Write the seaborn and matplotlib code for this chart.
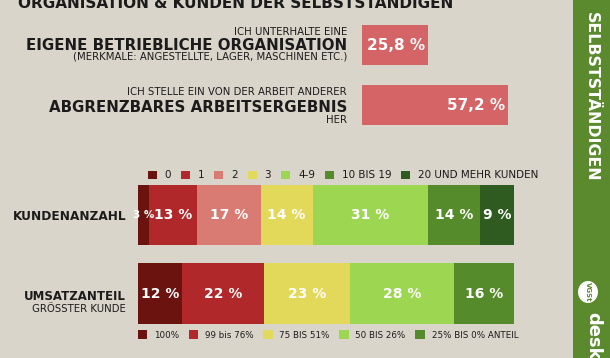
import matplotlib
matplotlib.use("Agg")
import numpy as np
import pandas as pd
import seaborn as sns
import matplotlib.pyplot as plt
from matplotlib.patches import Patch, Rectangle, Ellipse

# ================================
# Daten
# ================================
org_keys = ["ORG", "ERG"]
org_values = [25.8, 57.2]
org_labels = ["25,8 %", "57,2 %"]

kunden_cats = ["0", "1", "2", "3", "4-9", "10 BIS 19", "20 UND MEHR KUNDEN"]
kunden_values = [3, 13, 17, 14, 31, 14, 9]

umsatz_cats = ["100%", "99 bis 76%", "75 BIS 51%", "50 BIS 26%", "25% BIS 0% ANTEIL"]
umsatz_values = [12, 22, 23, 28, 16]

# Farben
BG = "#dad5ca"
RED_TOP = "#d46465"
SIDE_GREEN = "#5b8a2e"
DARK = "#1b1b1b"
kunden_colors = ["#6a130f", "#b0282a", "#d97b72", "#e2d95a", "#9dd651", "#568b2b", "#2f5a20"]
umsatz_colors = ["#6a130f", "#b0282a", "#e2d95a", "#9dd651", "#568b2b"]

sns.set_theme(style="white")
plt.rcParams["font.family"] = ["DejaVu Sans"]

W, H = 610, 358
fig = plt.figure(figsize=(W / 100, H / 100), dpi=100)
fig.patch.set_facecolor(BG)


def fx(px):
    return px / W


def fy(py):
    return 1 - py / H


# ================================
# Titel (oben abgeschnitten)
# ================================
fig.text(fx(236), fy(7.5), "ORGANISATION & KUNDEN DER SELBSTSTÄNDIGEN",
         ha="center", va="baseline", fontsize=11, fontweight="bold", color=DARK)

# ================================
# Obere Balken
# ================================
ax_top = fig.add_axes([fx(362), fy(135), 153.1 / W, 120 / H])
ax_top.set_facecolor("none")
sns.barplot(x=org_values, y=org_keys, orient="h", color=RED_TOP,
            width=0.66, saturation=1, linewidth=0, ax=ax_top)
ax_top.set_xlim(0, 60)
ax_top.set_ylim(1.5, -0.5)
ax_top.axis("off")
for i, (v, lab) in enumerate(zip(org_values, org_labels)):
    ax_top.annotate(lab, (v, i), xytext=(-2, 0), textcoords="offset points",
                    ha="right", va="center", color="white",
                    fontsize=11, fontweight="bold")

small = dict(ha="right", va="baseline", fontsize=7.3, color=DARK)
big = dict(ha="right", va="baseline", fontsize=10.8, fontweight="bold", color=DARK)
fig.text(fx(347), fy(35), "ICH UNTERHALTE EINE", **small)
fig.text(fx(347), fy(50), "EIGENE BETRIEBLICHE ORGANISATION", **big)
fig.text(fx(347), fy(59.5), "(MERKMALE: ANGESTELLTE, LAGER, MASCHINEN ETC.)", **small)
fig.text(fx(347), fy(95), "ICH STELLE EIN VON DER ARBEIT ANDERER", **small)
fig.text(fx(347), fy(112), "ABGRENZBARES ARBEITSERGEBNIS", **big)
fig.text(fx(347), fy(123), "HER", **small)

# ================================
# Gestapelte Balken
# ================================
ax = fig.add_axes([fx(137.7), fy(332.75), 376 / W, 157 / H])
ax.set_facecolor("none")

rows = [(kunden_values, kunden_colors), (umsatz_values, umsatz_colors)]
for r, (vals, cols) in enumerate(rows):
    left = np.concatenate([[0], np.cumsum(vals)[:-1]])
    for v, l, c in zip(vals, left, cols):
        cont = ax.barh(r, v, left=l, color=c, height=0.775, linewidth=0)
        txts = ax.bar_label(cont, labels=[f"{v} %"], label_type="center",
                            color="white", fontsize=10, fontweight="bold")
        if v < 5:
            for t in txts:
                t.set_fontsize(7.5)

ax.set_xlim(0, 101)
ax.set_ylim(1.5, -0.5)
ax.axis("off")

fig.text(fx(126), fy(220), "KUNDENANZAHL", ha="right", va="baseline",
         fontsize=8.7, fontweight="bold", color=DARK)
fig.text(fx(126), fy(300), "UMSATZANTEIL", ha="right", va="baseline",
         fontsize=8.5, fontweight="bold", color=DARK)
fig.text(fx(126), fy(312.3), "GRÖSSTER KUNDE", ha="right", va="baseline",
         fontsize=7.3, color=DARK)

# Legenden
h1 = [Patch(facecolor=c, edgecolor="none") for c in kunden_colors]
fig.legend(h1, kunden_cats, loc="center left", bbox_to_anchor=(fx(147.7), fy(175.5)),
           ncol=len(h1), frameon=False, fontsize=7.5, handlelength=0.87,
           handleheight=0.87, handletextpad=0.75, columnspacing=0.95,
           borderpad=0, borderaxespad=0, labelcolor=DARK)

h2 = [Patch(facecolor=c, edgecolor="none") for c in umsatz_colors]
fig.legend(h2, umsatz_cats, loc="center left", bbox_to_anchor=(fx(137.7), fy(335)),
           ncol=len(h2), frameon=False, fontsize=6.3, handlelength=1.1,
           handleheight=1.1, handletextpad=0.75, columnspacing=1.1,
           borderpad=0, borderaxespad=0, labelcolor=DARK)

# ================================
# Seitenleiste
# ================================
fig.add_artist(Rectangle((fx(573), 0), 1 - fx(573), 1, transform=fig.transFigure,
                         facecolor=SIDE_GREEN, edgecolor="none"))
fig.text(fx(591), fy(12), "SELBSTSTÄNDIGEN", rotation=-90, ha="center", va="top",
         fontsize=11.3, fontweight="bold", color="white")
fig.add_artist(Ellipse((fx(588), fy(292)), 20 / W, 22 / H, transform=fig.transFigure,
                       facecolor="white", edgecolor="none"))
fig.text(fx(588), fy(292), "VGSt", rotation=-90, ha="center", va="center",
         fontsize=5, fontweight="bold", color=SIDE_GREEN)
fig.text(fx(593), fy(312), "desk", rotation=-90, ha="center", va="top",
         fontsize=13, fontweight="bold", color="white")

fig.savefig("out.png", dpi=100, facecolor=BG)
